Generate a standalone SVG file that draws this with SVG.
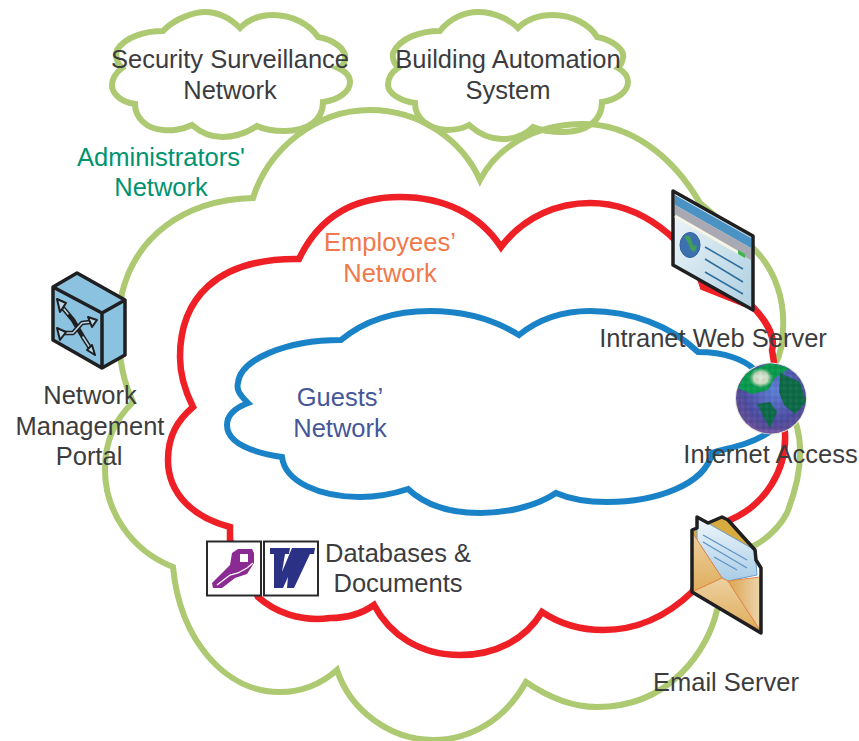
<svg xmlns="http://www.w3.org/2000/svg" width="859" height="741" viewBox="0 0 859 741">
<style>
.c{fill:none;stroke-width:6;stroke-linejoin:miter}
.g{stroke:#adc972}.r{stroke:#ee1f25;stroke-width:6.500}.b{stroke:#1a82c6}
text{font-family:"Liberation Sans",Arial,sans-serif;font-size:25.500px;fill:#3c3c3f;text-anchor:middle}
.o{stroke:#1f1f21;stroke-width:3.500;stroke-linejoin:round}
.adm{fill:#00936f}.emp{fill:#f0784a}.gst{fill:#46569a}
.ln{fill:none;stroke-linecap:round;stroke-linejoin:round}
</style>
<defs>
<linearGradient id="page" x1="0" y1="0" x2="1" y2="1"><stop offset="0" stop-color="#f3f9fc"/><stop offset="1" stop-color="#aecfe0"/></linearGradient>
<linearGradient id="letter" x1="0" y1="0" x2="0" y2="1"><stop offset="0" stop-color="#f2f8fc"/><stop offset="1" stop-color="#a8cce6"/></linearGradient>
<linearGradient id="env" x1="0" y1="0" x2="0" y2="1"><stop offset="0" stop-color="#edd0a0"/><stop offset="1" stop-color="#dfae5c"/></linearGradient>
<linearGradient id="env2" x1="0" y1="0" x2="1" y2="0"><stop offset="0" stop-color="#dca550"/><stop offset="1" stop-color="#ecd3ac"/></linearGradient>
<radialGradient id="globe" cx=".55" cy=".38" r=".68"><stop offset="0" stop-color="#5f7fd8"/><stop offset=".65" stop-color="#4c4ca0"/><stop offset="1" stop-color="#6b4f90"/></radialGradient>
<radialGradient id="snow" cx=".5" cy=".5" r=".5"><stop offset="0" stop-color="#e4eadb"/><stop offset=".6" stop-color="#c4d8bc"/><stop offset="1" stop-color="#9cc9a0" stop-opacity="0"/></radialGradient>
<pattern id="px" width="6" height="6" patternUnits="userSpaceOnUse"><rect width="3" height="3" fill="#000" opacity=".05"/><rect x="3" y="3" width="3" height="3" fill="#fff" opacity=".04"/></pattern>
<clipPath id="ball"><circle cx="771" cy="398.500" r="35"/></clipPath>
</defs>
<g id="connectors">
<path id="cloud-admin" class="c g" d="M253 198C268 150 315 110 370 110C420 110 462 140 480 180C497 147 535 124 583 124C630 124 672 155 700 203L755 250C775 270 785 300 783 330C783 345 780 355 775 365L797 427C803 450 800 480 787 513C778 530 765 540 752 547L717 610C708 650 670 707 597 707C570 707 545 695 526 682C505 720 470 740 433 740C390 740 350 710 337 670C320 685 300 692 280 692C225 692 180 640 173 567C130 550 105 510 105 470C105 440 115 420 133 402C120 375 115 340 122 293C135 240 180 200 253 198Z"/>
<path id="cloud-employees" class="c r" d="M299 259C320 215 355 197 400 197C445 197 480 215 501 247C525 215 560 203 590 203C640 203 690 240 703 287L753 307C770 325 775 340 772 350L785 433C787 470 765 505 730 520L692 592C665 618 635 630 603 630C580 630 560 624 542 612C525 640 495 655 460 655C420 655 390 635 374 605C360 615 345 618 330 618C300 622 275 612 258 597L230 540V527C195 518 168 495 168 460C168 435 178 420 193 407C182 385 180 370 180 357C180 300 215 258 299 259Z"/>
<path id="cloud-guests" class="c b" d="M341 340C365 320 395 311 430 311C465 311 495 320 519 335C540 318 565 311 590 311C630 311 670 325 698 352C725 352 745 360 755 370L768 433C745 447 725 448 712 453C705 485 655 502 607 502C590 502 572 500 556 493C535 507 505 513 480 513C450 513 425 505 408 489C390 495 375 497 360 497C320 497 285 482 282 457C250 452 227 443 227 425C227 415 235 408 248 403C240 395 236 390 238 383C240 360 285 340 341 340Z"/>
<path id="cloud-security" class="c g" d="M163 31C175 18 195 12 205 12C220 12 232 20 240 28C250 18 262 15 273 15C293 15 310 25 318 37C335 40 347 50 345 60C344 65 341 67 338 68C347 72 350 77 350 82C350 92 338 100 323 102C323 122 305 131 285 131C275 131 265 130 257 126C248 132 235 137 222 137C210 137 200 132 192 125C182 130 170 131 163 130C147 129 135 118 135 104C120 102 112 93 112 85C112 78 117 72 122 68C117 63 115 57 117 50C125 37 145 31 163 31Z"/>
<path id="cloud-building" class="c g" d="M440 31C450 18 465 12 478 12C495 12 510 20 518 28C528 18 540 15 553 15C573 15 590 25 597 37C613 40 625 50 623 58C622 63 620 66 618 68C625 72 628 77 628 82C628 92 616 100 602 102C602 122 585 132 563 132C552 132 542 131 533 127C525 135 515 139 502 139C490 139 478 133 469 125C460 130 453 130 447 130C428 129 415 118 415 103C400 101 388 93 388 85C388 78 392 72 398 68C394 63 392 58 393 53C400 38 420 31 440 31Z"/>
</g>
<g id="labels">
<text x="230" y="68">Security Surveillance</text><text x="230" y="99">Network</text>
<text x="508" y="68">Building Automation</text><text x="508" y="99">System</text>
<text class="adm" x="161" y="166">Administrators'</text><text class="adm" x="161" y="196">Network</text>
<text class="emp" x="390" y="251">Employees’</text><text class="emp" x="390" y="282">Network</text>
<text class="gst" x="340" y="406">Guests’</text><text class="gst" x="340" y="437">Network</text>
</g>
<g id="switch">
<path d="M53 287L77 273L125 300V355L102 368L53 340Z" fill="#8bc2df"/>
<path class="o" fill="none" d="M53 287L77 273L125 300L102 313ZM53 287V340L102 368V313M102 368L125 355V300"/>
<path class="ln" stroke="#1f1f21" stroke-width="4.500" d="M63 308L73 320L83 337L90 348M63 333L73 333L82 323L90 322"/>
<path class="ln" stroke="#b8d8e8" stroke-width="1.500" d="M64 333L73 333L82 323L90 322M83 337L90 348M64 309L68 314"/>
<path d="M57 299L66 303L60 312ZM57 328L66 332L60 340ZM97 320L88 317L92 327ZM95 355L92 345L87 350Z" fill="#b8d8e8" stroke="#1f1f21" stroke-width="2" stroke-linejoin="round"/>
</g>
<g id="web">
<path class="o" fill="url(#page)" d="M673 191L753 236V310L673 265Z"/>
<path d="M675 195L751 238V248L675 205Z" fill="#4a93c4"/>
<path d="M675 205L751 248V260L675 216Z" fill="#a9a9b4"/>
<path d="M675 216L739 253" stroke="#f7f5e6" stroke-width="3"/>
<path d="M738 250L745 254V258L738 254Z" fill="#3fb54a"/>
<ellipse cx="690" cy="245" rx="10" ry="12.500" fill="#3d70ae" stroke="#2a5e9c"/>
<path d="M684 236L690 236L693 245L697 246L695 252L691 250L687 241Z" fill="#3f9f5a"/>
<path d="M705 247L743 269M705 259L743 282M705 272L743 294" stroke="#2f6f9f" stroke-width="1.500"/>
</g>
<g id="internet">
<circle cx="771" cy="398.500" r="36" fill="#dfe3d2"/>
<circle cx="771" cy="398.500" r="35" fill="url(#globe)"/>
<g clip-path="url(#ball)">
<path d="M738 388L746 372L770 363L790 368L775 378L768 390L752 394Z" fill="#0a9a4e"/>
<path d="M780 373L800 382L806 402L795 414L784 405L779 392Z" fill="#0f6a47"/>
<path d="M757 404L770 402L777 412L770 428L764 418Z" fill="#0e6a4a"/>
<path d="M736 415L760 430L790 430L800 420L790 436H745Z" fill="#7a5aa8" opacity=".6"/>
<ellipse cx="761" cy="378" rx="12" ry="10" fill="url(#snow)"/>
<circle cx="771" cy="398.500" r="35" fill="url(#px)"/>
</g>
</g>
<g id="mail">
<path d="M692 531L697 528V517L708 523L722 517L728 520L755 550V575L692 570Z" fill="#d8ab3e"/>
<path d="M697 517L755 550L757 575L728 581L722 578L697 540Z" fill="url(#letter)" stroke="#6a9cc9" stroke-width="1"/>
<path d="M692 532L722 578L692 592Z" fill="url(#env)" stroke="#e08848"/>
<path d="M692 592L722 578L728 581L760 630Z" fill="url(#env)" stroke="#e08848"/>
<path d="M728 581L760 577V630Z" fill="url(#env2)" stroke="#e08848"/>
<path d="M703 535L747 560M703 542L747 568M714 557L737 570" stroke="#5f93c6" stroke-width="1.300"/>
<path class="o" fill="none" d="M692 530L697 528V517L708 523L722 517L728 520L755 550L756 560L761 568V633L692 592Z"/>
</g>
<g id="docs">
<rect x="207" y="541.500" width="54" height="54" fill="#fff" stroke="#2a2a2c" stroke-width="2"/>
<rect x="264" y="541.500" width="54" height="54" fill="#fff" stroke="#2a2a2c" stroke-width="2"/>
<path fill-rule="evenodd" d="M212 583L230 565L232 553L238 549H252L254 553V563L247 574L235 578L222 588H213ZM240 554V562H248V554Z" fill="#8b2a92"/>
<path d="M217 585L230 575L238 573L247 568L253 563" stroke="#fff" stroke-width="1.300" fill="none"/>
<path d="M270 548H290L289 554H285L282 572L292 548H315L314 554H310L294 588H287L288 577L283 588H274V554H270Z" fill="#2b3286"/>
</g>
<g id="texts">
<text x="90" y="404">Network</text><text x="90" y="435">Management</text><text x="89" y="465">Portal</text>
<text x="713" y="347">Intranet Web Server</text>
<text x="770.500" y="463">Internet Access</text>
<text x="398" y="562">Databases &amp;</text><text x="398" y="592">Documents</text>
<text x="726" y="691">Email Server</text>
</g>
</svg>
